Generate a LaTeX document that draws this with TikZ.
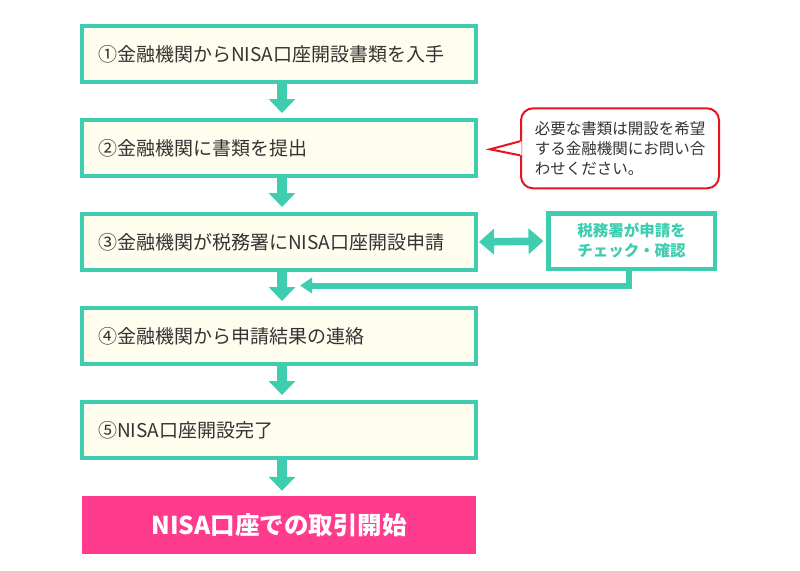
\documentclass[tikz,border=0pt]{standalone}
\usepackage{xcolor}
\usepackage{fontspec}
\usepackage{tikz}
\usetikzlibrary{arrows.meta,calc,positioning}

\newfontfamily\jp{Noto Sans CJK JP}

\definecolor{flowteal}{RGB}{62,205,175}
\definecolor{stepfill}{RGB}{255,253,238}
\definecolor{startpink}{RGB}{255,59,141}
\definecolor{memored}{RGB}{230,20,30}
\definecolor{textgray}{RGB}{51,51,51}

\begin{document}
\begin{tikzpicture}[
    x=1pt, y=-1pt,
    stepbox/.style={rectangle, draw=flowteal, line width=4pt, fill=stepfill, text width=362pt, align=left, inner xsep=16pt, inner ysep=0pt, minimum height=56pt, font=\jp\fontsize{19}{22}\selectfont, text=textgray},
    goalbox/.style={rectangle, fill=startpink, minimum width=394pt, minimum height=58pt, font=\jp\bfseries\fontsize{24.5}{28}\selectfont, text=white},
    checkbox/.style={rectangle, draw=flowteal, line width=4.5pt, fill=white, minimum width=166.5pt, minimum height=55.5pt, align=center, font=\jp\bfseries\fontsize{15.5}{20}\selectfont, text=flowteal},
    memo/.style={rectangle, draw=memored, line width=2pt, fill=white, rounded corners=12pt, minimum width=198pt, minimum height=80pt, align=left, font=\jp\fontsize{15.5}{20}\selectfont, text=textgray},
    flow/.style={draw=flowteal, line width=10pt, -{Triangle[width=26pt,length=14pt]}, shorten >=5pt},
    dualflow/.style={draw=flowteal, line width=7.5pt, {Triangle[width=25pt,length=15pt]}-{Triangle[width=25pt,length=15pt]}, shorten <=1pt, shorten >=2.5pt},
    back/.style={draw=flowteal, line width=6pt, -{Triangle[width=15pt,length=12pt]}}
]

\useasboundingbox (0,0) rectangle (800,570);

% Steps
\node[stepbox] (s1) at (279,54) {①金融機関からNISA口座開設書類を入手};
\node[stepbox] (s2) at (279,148) {②金融機関に書類を提出};
\node[stepbox] (s3) at (279,242) {③金融機関が税務署にNISA口座開設申請};
\node[stepbox] (s4) at (279,336) {④金融機関から申請結果の連絡};
\node[stepbox] (s5) at (279,430) {⑤NISA口座開設完了};

% Goal
\node[goalbox] (goal) at (279,525) {NISA口座での取引開始};

% Tax office check
\node[checkbox] (check) at (631.5,241) {税務署が申請を\\チェック・確認};

% Note
\node[memo] (note) at (620,148.3) {必要な書類は開設を希望\\する金融機関にお問い合\\わせください。};
\coordinate (notetip) at (490,149.3);
\fill[white] ($(note.west)+(1.5,-7)$) -- (notetip) -- ($(note.west)+(1.5,7)$) -- cycle;
\draw[memored, line width=2pt, line join=miter] ($(note.west)+(0,-7)$) -- (notetip) -- ($(note.west)+(0,7)$);

% Flow arrows
\draw[flow] ([xshift=3pt]s1.south) -- ([xshift=3pt]s2.north);
\draw[flow] ([xshift=3pt]s2.south) -- ([xshift=3pt]s3.north);
\draw[flow] ([xshift=3pt]s3.south) -- ([xshift=3pt]s4.north);
\draw[flow] ([xshift=3pt]s4.south) -- ([xshift=3pt]s5.north);
\draw[flow] ([xshift=3pt]s5.south) -- ([xshift=3pt]goal.north);

% Request and check
\draw[dualflow] (s3.east) -- (check.west);
\coordinate (backend) at (300,285.5);
\draw[back] ([xshift=-3pt]check.south) |- (backend);

\end{tikzpicture}
\end{document}
